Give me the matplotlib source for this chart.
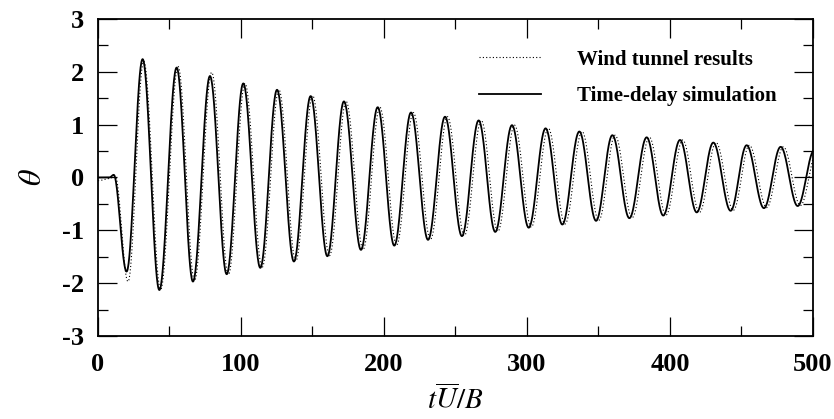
import numpy as np
import matplotlib
matplotlib.use("Agg")
import matplotlib.pyplot as plt

# Extrema (time tU/B, theta)
sim_t = [0, 8, 11, 20.0, 31.2, 42.9, 55.0, 66.4, 78.3, 90.0, 101.6, 113.5, 125.2, 137.0,
         148.7, 160.4, 172.0, 183.9, 195.6, 207.2, 218.9, 230.8, 242.7, 254.5, 266.2,
         277.8, 289.5, 301.2, 313.0, 324.7, 336.6, 348.3, 359.7, 371.6, 383.7, 395.3,
         407.0, 418.7, 430.3, 442.4, 453.6, 465.7, 477.4, 489.3, 501.0]
sim_v = [0.0, 0.0, 0.05, -1.78, 2.24, -2.13, 2.08, -1.97, 1.92, -1.83, 1.78, -1.71, 1.66,
         -1.59, 1.54, -1.49, 1.44, -1.37, 1.33, -1.29, 1.23, -1.18, 1.15, -1.11, 1.08,
         -1.03, 0.99, -0.95, 0.93, -0.89, 0.87, -0.82, 0.80, -0.77, 0.76, -0.72, 0.71,
         -0.66, 0.66, -0.63, 0.61, -0.58, 0.58, -0.54, 0.52]

exp_t = [0, 8, 12, 21.0, 32.0, 43.8, 56.0, 67.5, 79.5, 91.2, 102.8, 114.8, 126.5, 138.3,
         150.1, 161.9, 173.5, 185.4, 197.1, 208.8, 220.5, 232.5, 244.4, 256.2, 268.0,
         279.6, 291.3, 303.0, 314.9, 326.6, 338.5, 350.2, 361.6, 373.5, 385.6, 397.2,
         408.9, 420.6, 432.2, 444.3, 455.5, 467.6, 479.3, 491.2, 503.0]
exp_v = [-0.06, -0.02, 0.03, -1.97, 2.20, -2.12, 2.10, -1.95, 1.99, -1.84, 1.78, -1.70,
         1.66, -1.58, 1.55, -1.48, 1.44, -1.36, 1.33, -1.28, 1.23, -1.17, 1.15, -1.10,
         1.08, -1.02, 0.99, -0.94, 0.93, -0.88, 0.87, -0.81, 0.80, -0.76, 0.76, -0.71,
         0.71, -0.66, 0.66, -0.62, 0.61, -0.57, 0.58, -0.53, 0.52]

x_ticks = [0, 100, 200, 300, 400, 500]
y_ticks = [-3, -2, -1, 0, 1, 2, 3]
labels = ["Wind tunnel results", "Time-delay simulation"]


def smooth_path(te, ve, n=40):
    xs, ys = [], []
    for i in range(len(te) - 1):
        s = np.linspace(0, 1, n, endpoint=False)
        w = (1 - np.cos(np.pi * s)) / 2
        xs.append(te[i] + (te[i + 1] - te[i]) * s)
        ys.append(ve[i] + (ve[i + 1] - ve[i]) * w)
    xs.append([te[-1]])
    ys.append([ve[-1]])
    return np.concatenate(xs), np.concatenate(ys)


plt.rcParams['font.family'] = ['Liberation Serif', 'DejaVu Serif']
plt.rcParams['mathtext.fontset'] = 'stix'
plt.rcParams['axes.unicode_minus'] = False

fig = plt.figure(figsize=(8.34, 4.19), dpi=100)
ax = fig.add_axes([0.1175, 0.1981, 0.8573, 0.7566])

ex, ey = smooth_path(exp_t, exp_v)
sx, sy = smooth_path(sim_t, sim_v)
ax.plot(ex, ey, color='black', lw=0.8, linestyle=(0, (1, 2)), label=labels[0])
ax.plot(sx, sy, color='black', lw=1.3, label=labels[1])

ax.set_xlim(0, 500)
ax.set_ylim(-3, 3)
ax.set_xticks(x_ticks)
ax.set_yticks(y_ticks)
ax.set_xticks(np.arange(50, 500, 100), minor=True)
ax.set_yticks(np.arange(-2.5, 3, 1.0), minor=True)
ax.tick_params(which='both', direction='in', top=True, right=True, width=0.9)
ax.tick_params(which='major', length=13.5, labelsize=19)
ax.tick_params(axis='x', which='major', pad=12)
ax.tick_params(axis='y', which='major', pad=10)
ax.tick_params(which='minor', length=7)
for lab in ax.get_xticklabels() + ax.get_yticklabels():
    lab.set_fontweight('bold')
for sp in ax.spines.values():
    sp.set_linewidth(1.3)

ax.set_xlabel(r'$t\overline{U}/B$', fontsize=21, labelpad=6)
ax.set_ylabel(r'$\theta$', fontsize=23, labelpad=10)

leg = ax.legend(loc='upper right', frameon=False,
                prop={'family': 'Liberation Serif', 'weight': 'bold', 'size': 15},
                handlelength=3.0, handletextpad=1.7, labelspacing=0.78,
                bbox_to_anchor=(0.975, 0.962))

fig.savefig('out.png', dpi=100)
